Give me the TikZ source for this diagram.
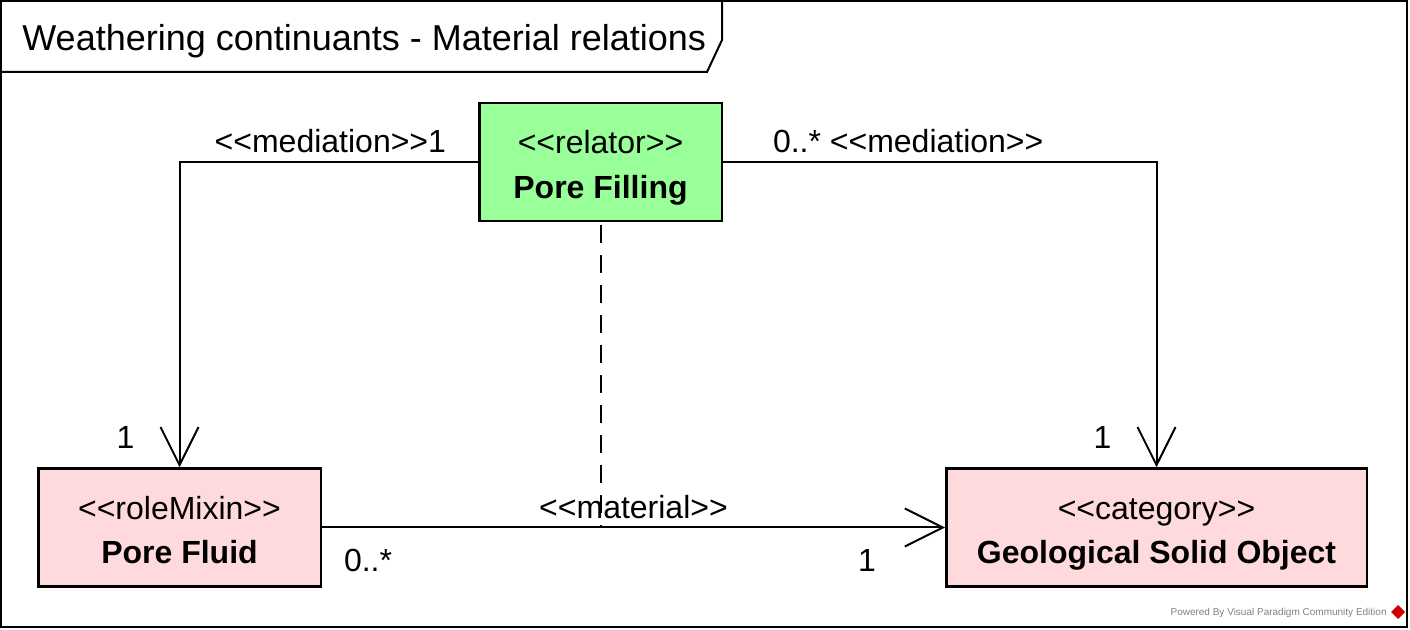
\documentclass[tikz,border=0pt]{standalone}
\usepackage{fontspec}
\setmainfont{Liberation Sans}
\usepackage{tikz}
\usetikzlibrary{positioning, arrows.meta}
\definecolor{relgreen}{RGB}{153,255,153}
\definecolor{rolepink}{RGB}{255,218,221}
\newcommand{\stereo}[1]{<\kern0pt<#1>\kern0pt>}
\newcommand{\classtext}[2]{\rule{0pt}{18pt}\stereo{#1}\\\textbf{#2}\rule[-4pt]{0pt}{0pt}}
\tikzset{umlclass/.style={draw, line width=1.25pt, minimum height=59pt, inner sep=0pt, align=center, font=\fontsize{16}{22.2}\selectfont}}
\tikzset{relator/.append style={umlclass, fill=relgreen}}
\tikzset{rolebox/.append style={umlclass, fill=rolepink}}
\tikzset{assoc/.style={line width=1pt, -{Straight Barb[length=19pt, width=19pt, line width=1pt]}}}
\tikzset{mult/.style={inner sep=0pt, font=\fontsize{16}{22}\selectfont}}

\begin{document}
\begin{tikzpicture}[x=0.5pt, y=-0.5pt]
      \useasboundingbox (0,0) rectangle (1410,630);
      \draw[line width=1pt] (1,1) rectangle (1407,627);
      \draw[line width=1pt] (1,1) -- (722,1) -- (722,40) -- (707,72) -- (1,72);
      \node[anchor=base west, inner sep=0pt, font=\fontsize{18}{22}\selectfont] (title) at (22,51) {Weathering continuants - Material relations};

      \node[relator, minimum width=121.25pt] (pf) at (600.5,162) {\classtext{relator}{Pore Filling}};

      \node[rolebox, minimum width=141.25pt] (fluid) [below left=122.5pt and 78pt of pf] {\classtext{roleMixin}{Pore Fluid}};

      \node[rolebox, minimum width=210.25pt] (solid) [below right=122.5pt and 111pt of pf] {\classtext{category}{Geological Solid Object}};

      \draw[assoc] (pf.west)
        node[mult, anchor=base east, xshift=-15.5pt, yshift=4.5pt] (medleft) {\stereo{mediation}1}
        -| (fluid.north)
        node[mult, anchor=base east, xshift=-22pt, yshift=9.5pt] (multfluid) {1};

      \draw[assoc] (pf.east)
        node[mult, anchor=base west, xshift=24.5pt, yshift=4.5pt] (medright) {0..* \stereo{mediation}}
        -| (solid.north)
        node[mult, anchor=base east, xshift=-22pt, yshift=9.5pt] (multsolid) {1};

      \draw[assoc] (fluid.east)
        node[mult, anchor=base west, xshift=10.5pt, yshift=-22pt] (multmatl) {0..*}
        -- node[mult, anchor=base, yshift=4.5pt] (matlabel) {\stereo{material}}
        coordinate[midway] (matmid) (solid.west)
        node[mult, anchor=base east, xshift=-34pt, yshift=-22pt] (multmatr) {1};

      \draw[line width=1pt, dash pattern=on 9pt off 6pt] ([yshift=-1.5pt]pf.south) -- (pf.south |- matmid);

      \node[anchor=east, inner sep=0pt, text=gray, font=\fontsize{5}{6}\selectfont] (vp) at (1387,613) {Powered By Visual Paradigm Community Edition};
      \fill[red!80!black] (1398,605) -- (1405,612) -- (1398,619) -- (1391,612) -- cycle;

    \end{tikzpicture}
\end{document}
